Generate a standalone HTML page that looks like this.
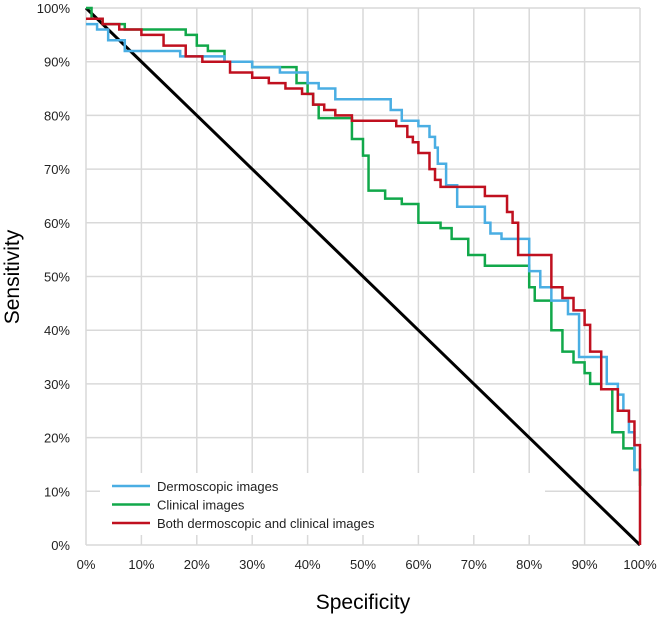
<!DOCTYPE html>
<html><head><meta charset="utf-8"><style>
body{margin:0;background:#fff;font-family:"Liberation Sans",sans-serif}
svg text{font-family:"Liberation Sans",sans-serif}
</style></head><body>
<svg id="c" width="659" height="615"></svg>
<script>
const xTicks=[0,10,20,30,40,50,60,70,80,90,100];
const yTicks=[0,10,20,30,40,50,60,70,80,90,100];
const seriesNames=["Dermoscopic images","Clinical images","Both dermoscopic and clinical images"];
const seriesColors=["#4aaee3","#11a84a","#c0101f"];
const blueX=[0,2,4,7,17,25,30,35,40,42,45,55,57,60,62,63,63.5,65,67,72,73,75,79,80,82,84,87,89,92,94,96,97,98,99,100];
const blueY=[97,96,94,92,91,90,89,88,86,85,83,81,79,78,76,74,71,67,63,60,58,57,57,51,48,45.5,43,35,35,30,28,25,21,14,13];
const greenX=[0,1,3,7,18,20,22,25,30,37,38,40,41,42,48,50,51,54,57,60,64,66,69,72,79,80,81,84,86,88,90,91,93,95,97,99,100];
const greenY=[100,98,97,96,95,93,92,90,89,89,86,84,82,79.5,75.6,72.5,66,64.5,63.5,60,59,57,54,52,52,48,45.5,40,36,34,32,30,29,21,18,14,11];
const redX=[0,3,6,10,14,18,21,26,30,33,36,39,41,43,45,48,56,58,59,60,62,63,64,70,72,75,76,77,78,82.5,84,86,88,90,91,93,96,98,99,100,100];
const redY=[98,97,96,95,93,91,90,88,87,86,85,84,82,81,80,79,78,76,75,73,70,68,66.7,66.7,65,65,62,60,54,54,48,46,43.7,41,36,29,25,23,18.6,18,0];
const L=86,R=640,T=8,B=545;
const sx=v=>L+(R-L)*v/100, sy=v=>B-(B-T)*v/100;
const svg=document.getElementById('c');const NS="http://www.w3.org/2000/svg";
function mk(t,a,p){const e=document.createElementNS(NS,t);for(const k in a)e.setAttribute(k,a[k]);(p||svg).appendChild(e);return e;}
xTicks.forEach(v=>{const l=mk('line',{x1:sx(v),x2:sx(v),y1:T,y2:B,stroke:'#d9d9d9','stroke-width':1.5});


const t=mk('text',{x:sx(v),y:B+24,'text-anchor':'middle','font-size':13,fill:'#222'});t.textContent=v+'%';

});
yTicks.forEach(v=>{const l=mk('line',{x1:L,x2:R,y1:sy(v),y2:sy(v),stroke:'#d9d9d9','stroke-width':1.5});


const t=mk('text',{x:L-16,y:sy(v)+5,'text-anchor':'end','font-size':13,fill:'#222'});t.textContent=v+'%';

});
const diag=mk('line',{x1:sx(0),y1:sy(100),x2:sx(100),y2:sy(0),stroke:'#000','stroke-width':3});


function step(xs,ys){let d='M'+sx(xs[0])+','+sy(ys[0]);for(let i=1;i<xs.length;i++){d+=' L'+sx(xs[i])+','+sy(ys[i-1])+' L'+sx(xs[i])+','+sy(ys[i]);}return d;}
[[greenX,greenY,1,'clinical-curve'],[blueX,blueY,0,'dermoscopic-curve'],[redX,redY,2,'both-curve']].forEach(s=>{
const p=mk('path',{d:step(s[0],s[1]),fill:'none',stroke:seriesColors[s[2]],'stroke-width':2.5});

});
const lg=mk('g',{});


mk('rect',{x:100,y:473,width:445,height:62,fill:'#fff'},lg);
seriesNames.forEach((n,i)=>{const y=486+i*18.5;
const ln=mk('line',{x1:112,x2:150,y1:y,y2:y,stroke:seriesColors[i],'stroke-width':2.5},lg);


const t=mk('text',{x:157,y:y+5,'font-size':13,fill:'#222'},lg);t.textContent=n;

});
const xt=mk('text',{x:363,y:609,'text-anchor':'middle','font-size':21,fill:'#000'});xt.textContent='Specificity';


const yt=mk('text',{x:0,y:0,'text-anchor':'middle','font-size':21,fill:'#000',transform:'translate(19,277) rotate(-90)'});yt.textContent='Sensitivity';


</script>
</body></html>
